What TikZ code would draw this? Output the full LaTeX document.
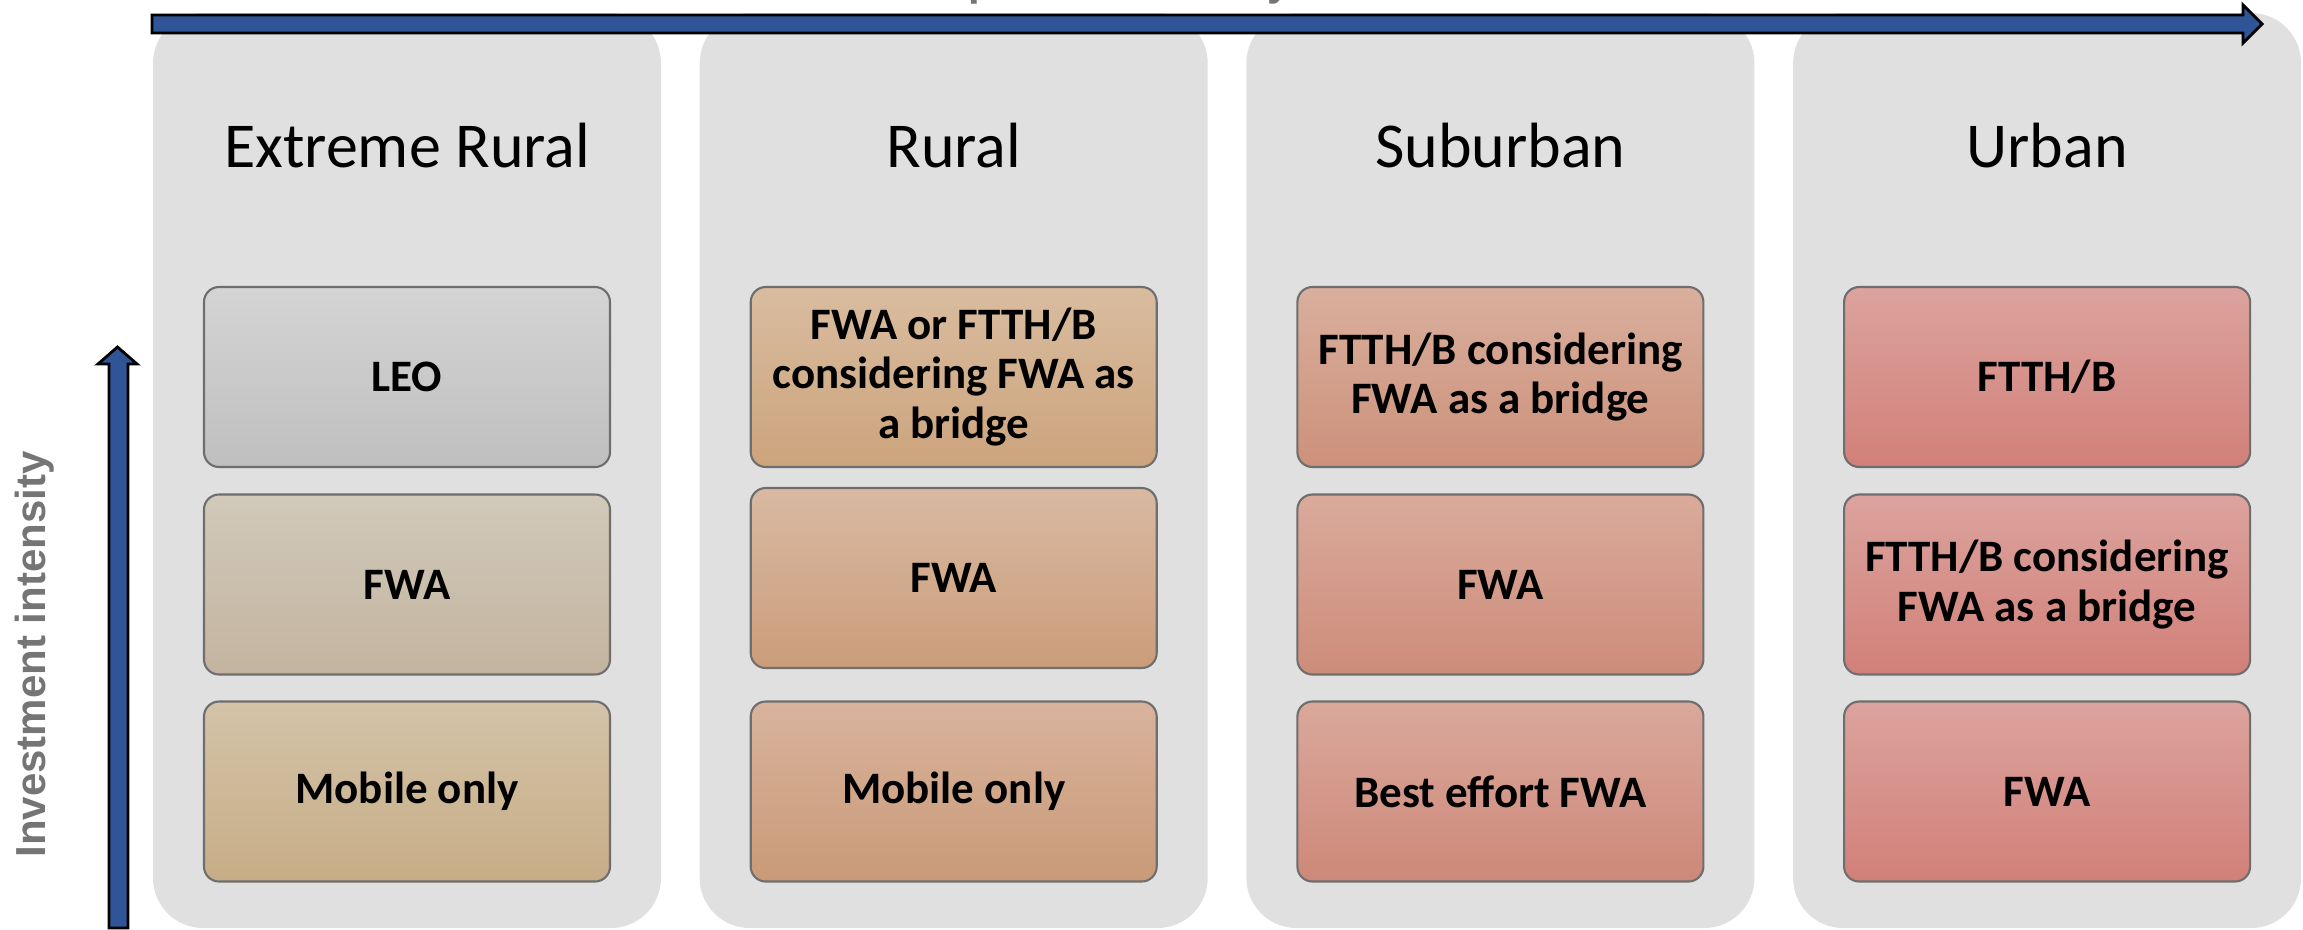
\documentclass[tikz,border=0pt]{standalone}
\usepackage{fontspec}
\setmainfont{Carlito}
\newfontfamily\axisfont{Liberation Sans}

\definecolor{arrowblue}{HTML}{2F5597}
\definecolor{panelgray}{HTML}{E0E0E0}
\definecolor{axisgray}{HTML}{757575}
\definecolor{cellline}{HTML}{6E6E6E}
\definecolor{leotop}{HTML}{D4D4D4}    \definecolor{leobot}{HTML}{BFBFBF}
\definecolor{exfwatop}{HTML}{D1C9BA}  \definecolor{exfwabot}{HTML}{C3B49F}
\definecolor{exmobtop}{HTML}{D3C3A8}  \definecolor{exmobbot}{HTML}{C7AD86}
\definecolor{rubrtop}{HTML}{D9BC9F}   \definecolor{rubrbot}{HTML}{CCA47D}
\definecolor{rufwatop}{HTML}{D9B9A2}  \definecolor{rufwabot}{HTML}{CB9D7A}
\definecolor{rumobtop}{HTML}{D9B39D}  \definecolor{rumobbot}{HTML}{C99A77}
\definecolor{subrtop}{HTML}{D9AF9D}   \definecolor{subrbot}{HTML}{CC917A}
\definecolor{sufwatop}{HTML}{DAAA9B}  \definecolor{sufwabot}{HTML}{CD8C7A}
\definecolor{subesttop}{HTML}{DAA89C} \definecolor{subestbot}{HTML}{CD8878}
\definecolor{urtop}{HTML}{DCA39E}     \definecolor{urbot}{HTML}{D18078}

\begin{document}
\begin{tikzpicture}[
    panel/.style={fill=panelgray, rounded corners=0.5cm, minimum width=5.08cm,
                  minimum height=9.15cm, inner sep=0pt},
    title/.style={font=\fontsize{18.2}{22}\selectfont, anchor=base, inner sep=0pt},
    cell/.style 2 args={draw=cellline, line width=0.6pt, rounded corners=0.15cm,
                  top color=#1, bottom color=#2, minimum width=4.06cm,
                  minimum height=1.8cm, inner sep=0pt, align=center,
                  font=\bfseries\fontsize{12.8}{14.2}\selectfont},
    axis/.style={font=\axisfont\bfseries\fontsize{11.95}{14}\selectfont,
                  text=axisgray, inner sep=0pt},
    blockarrow/.style={fill=arrowblue, draw=black, line width=0.8pt, line join=miter}
]
\useasboundingbox (0,0) rectangle (23.03,-9.29);

% columns
\node [panel] (extreme)  at ( 4.070,-4.705) {};
\node [panel] (rural)    at ( 9.537,-4.705) {};
\node [panel] (suburban) at (15.004,-4.705) {};
\node [panel] (urban)    at (20.471,-4.705) {};

\node [title] (extremet)  at ( 4.070,-1.67) {Extreme Rural};
\node [title] (ruralt)    at ( 9.537,-1.67) {Rural};
\node [title] (suburbant) at (15.004,-1.67) {Suburban};
\node [title] (urbant)    at (20.471,-1.67) {Urban};

% axes
\draw [blockarrow] (1.52,-0.15) -- (22.43,-0.15) -- (22.43,-0.05) -- (22.62,-0.24)
    -- (22.43,-0.43) -- (22.43,-0.33) -- (1.52,-0.33) -- cycle;
\draw [blockarrow] (1.09,-9.28) -- (1.09,-3.64) -- (0.98,-3.64) -- (1.175,-3.47)
    -- (1.37,-3.64) -- (1.28,-3.64) -- (1.28,-9.28) -- cycle;

\node [axis, anchor=base] (density) at (11.03,0.05) {Population density};
\node [axis, rotate=90]   (invest)  at (0.345,-6.545) {Investment intensity};

% extreme rural
\node [cell={leotop}{leobot}]     (leo)    at (4.070,-3.770) {LEO};
\node [cell={exfwatop}{exfwabot}] (exfwa)  at (4.070,-5.845) {FWA};
\node [cell={exmobtop}{exmobbot}] (exmob)  at (4.070,-7.915) {Mobile only};

% rural
\node [cell={rubrtop}{rubrbot}]   (rubridge) at (9.537,-3.770)
    {FWA or FTTH/B\\considering FWA as\\a bridge};
\node [cell={rufwatop}{rufwabot}] (rufwa)  at (9.537,-5.780) {FWA};
\node [cell={rumobtop}{rumobbot}] (rumob)  at (9.537,-7.915) {Mobile only};

% suburban
\node [cell={subrtop}{subrbot}]   (subridge) at (15.004,-3.770)
    {FTTH/B considering\\FWA as a bridge};
\node [cell={sufwatop}{sufwabot}] (sufwa)  at (15.004,-5.845) {FWA};
\node [cell={subesttop}{subestbot}] (subest) at (15.004,-7.915) {Best effort FWA};

% urban
\node [cell={urtop}{urbot}] (urftth)   at (20.471,-3.770) {FTTH/B};
\node [cell={urtop}{urbot}] (urbridge) at (20.471,-5.845)
    {FTTH/B considering\\FWA as a bridge};
\node [cell={urtop}{urbot}] (urfwa)    at (20.471,-7.915) {FWA};
\end{tikzpicture}
\end{document}
